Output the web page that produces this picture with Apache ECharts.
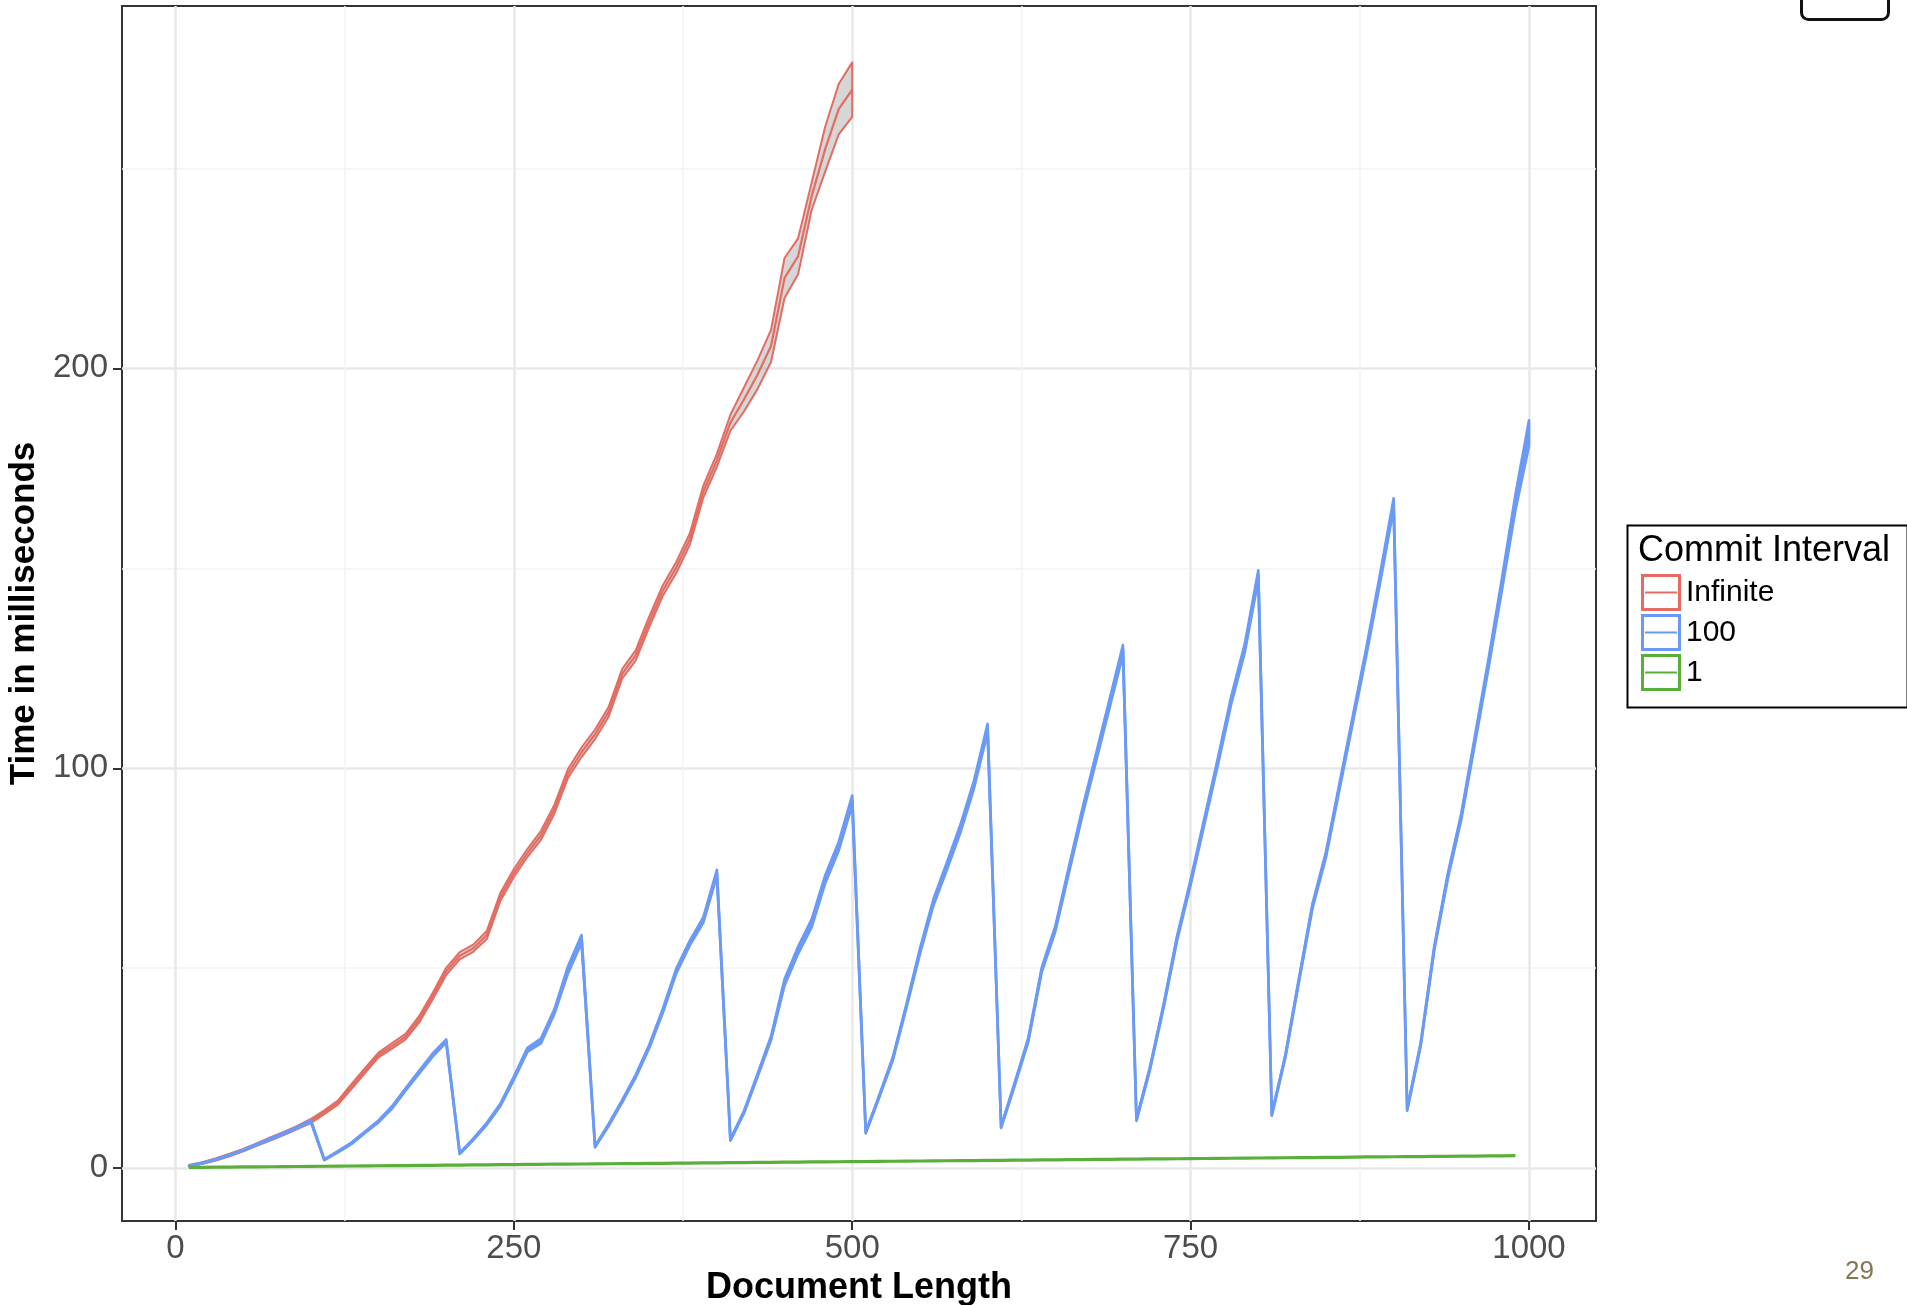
<!DOCTYPE html>
<html>
<head>
<meta charset="utf-8">
<script src="https://cdn.jsdelivr.net/npm/echarts@6/dist/echarts.min.js"></script>
<style>
html,body{margin:0;padding:0;background:#fff;}
#chart{width:1907px;height:1305px;}
</style>
</head>
<body>
<div id="chart"></div>
<script>
// ---------------- data ----------------
const docLength = [10,20,30,40,50,60,70,80,90,100,110,120,130,140,150,160,170,180,190,200,
  210,220,230,240,250,260,270,280,290,300,310,320,330,340,350,360,370,380,390,400,
  410,420,430,440,450,460,470,480,490,500,510,520,530,540,550,560,570,580,590,600,
  610,620,630,640,650,660,670,680,690,700,710,720,730,740,750,760,770,780,790,800,
  810,820,830,840,850,860,870,880,890,900,910,920,930,940,950,960,970,980,990,1000];

// Commit interval: Infinite (x = 10 .. 500)
const infiniteMean = [0.6,1.3,2.2,3.3,4.5,5.9,7.3,8.7,10.2,11.8,
  14.0,16.4,20.4,24.4,28.3,30.6,32.9,37.2,43.0,49.2,
  53.1,55.0,58.3,67.8,73.8,78.8,83.2,89.8,98.7,104.0,
  108.5,114.1,123.6,128.2,136.6,144.4,150.2,157.3,169.2,177.0,
  186.4,192.2,198.4,205.6,222.6,228.0,243.0,254.8,264.8,269.7];
const infiniteErr = [0.2,0.2,0.3,0.3,0.3,0.3,0.4,0.4,0.4,0.5,
  0.5,0.5,0.6,0.6,0.6,0.7,0.7,0.8,0.8,0.9,
  0.9,0.9,1.0,1.0,1.0,1.0,1.1,1.1,1.1,1.2,
  1.2,1.2,1.2,1.3,1.3,1.3,1.4,1.4,1.5,1.6,
  2.0,3.0,3.6,4.0,5.0,4.5,3.4,5.6,6.3,6.8];

// Commit interval: 100 (x = 10 .. 1000)
const c100Mean = [0.6,1.3,2.2,3.3,4.5,5.9,7.3,8.7,10.2,11.8,
  2.1,4.1,6.2,9.0,11.7,15.2,19.7,24.0,28.3,31.8,
  3.7,7.2,11.1,15.8,22.5,29.6,31.8,39.2,49.6,57.3,
  5.4,10.8,16.7,23.0,30.4,39.3,49.3,56.3,62.1,73.8,
  7.1,14.0,23.2,32.5,46.5,54.5,61.2,72.2,80.5,92.0,
  8.9,18.0,27.4,40.5,54.2,66.5,75.6,85.0,96.0,110.0,
  10.3,21.0,32.0,49.6,59.8,74.5,89.0,102.5,116.0,129.6,
  12.1,25.0,40.5,57.5,71.5,86.5,101.5,117.0,130.0,148.3,
  13.4,28.0,47.0,65.5,78.4,95.5,112.5,129.5,147.5,166.2,
  14.7,31.0,55.0,73.0,88.0,107.0,126.0,146.0,166.5,183.8];
const c100Err = [0.1,0.1,0.1,0.1,0.15,0.15,0.2,0.2,0.2,0.25,
  0.1,0.15,0.2,0.2,0.25,0.3,0.3,0.35,0.4,0.4,
  0.15,0.2,0.25,0.3,0.4,0.5,0.6,0.6,0.9,1.0,
  0.2,0.25,0.3,0.35,0.4,0.5,0.6,0.6,0.7,0.8,
  0.2,0.3,0.4,0.5,0.8,0.9,1.0,1.0,1.1,1.2,
  0.2,0.3,0.4,0.5,0.7,0.8,0.9,1.0,1.0,1.1,
  0.2,0.4,0.5,0.6,0.7,0.8,0.9,1.0,1.1,1.2,
  0.3,0.4,0.5,0.6,0.7,0.8,0.9,1.0,1.1,1.2,
  0.3,0.4,0.5,0.6,0.7,0.8,0.9,1.0,1.2,1.3,
  0.3,0.4,0.5,0.7,0.8,1.0,1.2,1.5,2.0,3.2];

// Commit interval: 1 (x = 10 .. 990)
const c1Mean = [0.20,0.22,0.25,0.28,0.31,0.34,0.37,0.40,0.43,0.46,
  0.49,0.52,0.55,0.58,0.61,0.64,0.67,0.70,0.73,0.76,
  0.79,0.82,0.85,0.88,0.91,0.94,0.97,1.05,1.02,1.05,
  1.08,1.11,1.14,1.17,1.20,1.23,1.26,1.29,1.32,1.35,
  1.38,1.41,1.44,1.47,1.50,1.53,1.56,1.59,1.62,1.65,
  1.68,1.71,1.74,1.77,1.80,1.83,1.86,1.89,1.92,1.95,
  1.98,2.01,2.04,2.07,2.10,2.13,2.16,2.19,2.22,2.25,
  2.28,2.31,2.34,2.37,2.40,2.43,2.46,2.49,2.52,2.55,
  2.58,2.61,2.64,2.67,2.70,2.73,2.76,2.82,2.83,2.86,
  2.89,2.92,2.95,2.98,3.01,3.04,3.07,3.10,3.14];

const xTickValues = [0,250,500,750,1000];
const xMinorValues = [125,375,625,875];
const yTickValues = [0,100,200];
const yMinorValues = [50,150,250];
const seriesNames = ['Infinite','100','1'];

// ---------------- chart ----------------
const FONT = '"Liberation Sans", Arial, Helvetica, sans-serif';
const RED = '#E46C62', BLUE = '#6B9AF6', GREEN = '#5AAF3A';

function pairs(xs, ys){ return ys.map((y,i)=>[xs[i], y]); }
function bandRows(xs, mean, err){ return mean.map((m,i)=>[xs[i], m - err[i], m + err[i]]); }

function bandSeries(id, rows, stroke, lw){
  return {
    type:'custom', id: id, name: id, silent:true, clip:true,
    data: rows,
    encode:{x:0, y:[1,2]},
    renderItem: function(params, api){
      if (params.dataIndexInside !== 0) return null;
      const n = params.dataInsideLength;
      const top = [], bot = [];
      for (let i=0;i<n;i++){
        top.push(api.coord([api.value(0,i), api.value(2,i)]));
        bot.push(api.coord([api.value(0,i), api.value(1,i)]));
      }
      return {
        type:'polygon',
        shape:{points: top.concat(bot.reverse())},
        style:{fill:'rgba(153,153,153,0.4)', stroke: stroke, lineWidth: lw, lineJoin:'round'}
      };
    }
  };
}

function lineSeries(name, data, color, width){
  return {
    type:'line', name: name, data: data, showSymbol:false, symbol:'none',
    clip:true, silent:true,
    itemStyle:{color: color},
    lineStyle:{color: color, width: width, join:'round'}
  };
}

const chart = echarts.init(document.getElementById('chart'), null, {renderer:'canvas'});
const legendIcon = 'path://M0,0 H40 V37 H0 Z M3,3 V34 H37 V3 Z M4,17.6 H36 V19.4 H4 Z';
const plain = v => String(v);

const option = {
  animation:false,
  backgroundColor:'#ffffff',
  textStyle:{fontFamily: FONT},
  grid:{left:122, top:6, width:1474, height:1215, show:true, borderColor:'#333333', borderWidth:2,
        backgroundColor:'transparent', containLabel:false, outerBoundsMode:'none'},
  xAxis:[
    {
      type:'value', min:-39.5, max:1049.5,
      axisLine:{show:false, onZero:false},
      axisTick:{show:true, length:9, customValues:xTickValues, lineStyle:{color:'#333333', width:2}},
      axisLabel:{customValues:xTickValues, formatter:plain, fontSize:33, color:'#4D4D4D', margin:11, fontFamily:FONT},
      splitLine:{show:true, lineStyle:{color:'#E8E8E8', width:2.5}},
      name:'Document Length', nameLocation:'middle', nameGap:45,
      nameTextStyle:{fontSize:36, fontWeight:'bold', color:'#000000', fontFamily:FONT}
    },
    {
      type:'value', min:-39.5, max:1049.5, position:'top',
      axisLine:{show:false, onZero:false},
      axisTick:{show:false, customValues:xMinorValues},
      axisLabel:{show:false, customValues:xMinorValues},
      splitLine:{show:true, lineStyle:{color:'#F3F3F3', width:1.5}}
    }
  ],
  yAxis:[
    {
      type:'value', min:-13.2, max:290.6,
      axisLine:{show:false, onZero:false},
      axisTick:{show:true, length:9, customValues:yTickValues, lineStyle:{color:'#333333', width:2}},
      axisLabel:{customValues:yTickValues, formatter:plain, fontSize:33, color:'#4D4D4D', margin:14, fontFamily:FONT},
      splitLine:{show:true, lineStyle:{color:'#E8E8E8', width:2.5}},
      name:'Time in milliseconds', nameLocation:'middle', nameRotate:90, nameGap:78,
      nameTextStyle:{fontSize:35, fontWeight:'bold', color:'#000000', fontFamily:FONT}
    },
    {
      type:'value', min:-13.2, max:290.6, position:'right',
      axisLine:{show:false, onZero:false},
      axisTick:{show:false, customValues:yMinorValues},
      axisLabel:{show:false, customValues:yMinorValues},
      splitLine:{show:true, lineStyle:{color:'#F3F3F3', width:1.5}}
    }
  ],
  legend:{
    data: seriesNames,
    orient:'vertical', left:1641, top:574,
    itemWidth:40, itemHeight:37, itemGap:3, padding:0,
    icon: legendIcon, selectedMode:false,
    itemStyle:{borderWidth:0},
    textStyle:{fontSize:30, color:'#000000', fontFamily:FONT}
  },
  graphic:[
    {type:'rect', left:1625, top:523, shape:{width:280, height:182}, style:{fill:'none', stroke:'#000000', lineWidth:2}, z:-1},
    {type:'text', left:1638, top:533, style:{text:'Commit Interval', fontSize:36, fill:'#000000', fontFamily:FONT}},
    {type:'rect', left:1799, top:-14, shape:{width:87, height:31, r:7}, style:{fill:'none', stroke:'#111111', lineWidth:3}},
    {type:'text', left:1845, top:1259, style:{text:'29', fontSize:26, fill:'#857652', fontFamily:FONT}}
  ],
  series:[
    bandSeries('Infinite band', bandRows(docLength.slice(0, infiniteMean.length), infiniteMean, infiniteErr), RED, 2),
    lineSeries('Infinite', pairs(docLength, infiniteMean), RED, 2.2),
    bandSeries('100 band', bandRows(docLength, c100Mean, c100Err), BLUE, 2.6),
    lineSeries('100', pairs(docLength, c100Mean), BLUE, 2.8),
    lineSeries('1', pairs(docLength, c1Mean), GREEN, 3.2)
  ]
};
chart.setOption(option);
</script>
</body>
</html>
